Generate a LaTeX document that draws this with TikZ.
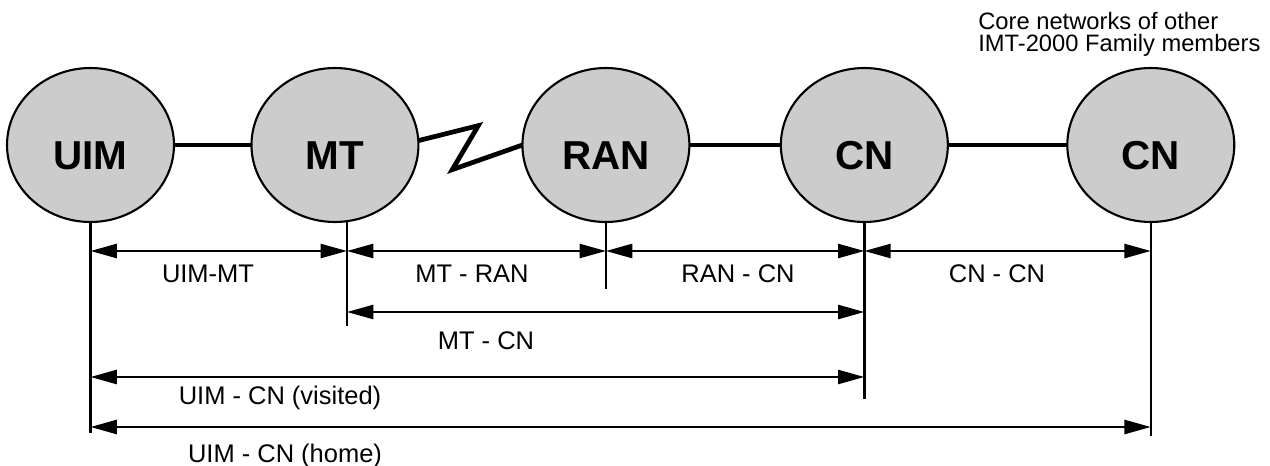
\documentclass[tikz,border=0pt]{standalone}
\usepackage{fontspec}
\setmainfont{Liberation Sans}
\usetikzlibrary{arrows.meta,positioning,shapes.geometric}
\definecolor{unitgray}{RGB}{204,204,204}

\begin{document}
\begin{tikzpicture}[
    x=0.02cm, y=-0.02cm,
    unit/.style={ellipse, draw, line width=1.2pt, fill=unitgray, minimum width=3.34cm, minimum height=3.08cm,
        inner sep=0pt, outer sep=0pt, font=\fontsize{23}{27}\selectfont\bfseries, text height=27.5pt, text depth=0pt},
    link/.style={line width=2.7pt},
    guide/.style={line width=1.3pt},
    span/.style={line width=1.3pt, {Triangle[length=15pt,width=8pt]}-{Triangle[length=15pt,width=8pt]}},
    spanlabel/.style={anchor=base, font=\fontsize{14.5}{16}\selectfont}
]
\useasboundingbox (0,0) rectangle (1270,466);

\node[unit] (uim) at (90.5,145) {UIM};
\node[unit, right=1.55cm of uim] (mt) {MT};
\node[unit, right=2.08cm of mt] (ran) {RAN};
\node[unit, right=1.83cm of ran] (cnvisited) {CN};
\node[unit, right=2.39cm of cnvisited] (cnhome) {CN};
\node[anchor=north west, align=left, inner sep=0pt, font=\fontsize{13.5}{12.5}\selectfont] (othernote) at (978,12)
    {Core networks of other\\IMT-2000 Family members};

\draw[link] (uim) -- (mt);
\draw[link, line join=miter] (mt.3) -- ++(60,-15) -- ++(-26,44) -- (ran.west);
\draw[link] (ran) -- (cnvisited);
\draw[link] (cnvisited) -- (cnhome);

\coordinate (mtfoot) at ([xshift=0.24cm]mt.south);
\coordinate (rowa) at (0,251);
\coordinate (rowb) at (0,312);
\coordinate (rowc) at (0,377);
\coordinate (rowd) at (0,427);

\draw[guide] (uim.south) -- ++(0,211);
\draw[guide] (mtfoot) -- ++(0,104);
\draw[guide] (ran.south) -- ++(0,67);
\draw[guide] (cnvisited.south) -- ++(0,177);
\draw[guide] (cnhome.south) -- ++(0,214);

\draw[span] (uim.south |- rowa) -- (mtfoot |- rowa);
\draw[span] (mtfoot |- rowa) -- (ran.south |- rowa);
\draw[span] (ran.south |- rowa) -- (cnvisited.south |- rowa);
\draw[span] (cnvisited.south |- rowa) -- (cnhome.south |- rowa);
\draw[span] (mtfoot |- rowb) -- (cnvisited.south |- rowb);
\draw[span] (uim.south |- rowc) -- (cnvisited.south |- rowc);
\draw[span] (uim.south |- rowd) -- (cnhome.south |- rowd);

\node[spanlabel] (uimmt) at (208,282) {UIM-MT};
\node[spanlabel] (mtran) at (472,282) {MT - RAN};
\node[spanlabel] (rancn) at (738,282) {RAN - CN};
\node[spanlabel] (cncn) at (997,282) {CN - CN};
\node[spanlabel] (mtcn) at (486,349) {MT - CN};
\node[spanlabel] (uimcnv) at (280,404) {UIM - CN (visited)};
\node[spanlabel] (uimcnh) at (285,462) {UIM - CN (home)};
\end{tikzpicture}
\end{document}
